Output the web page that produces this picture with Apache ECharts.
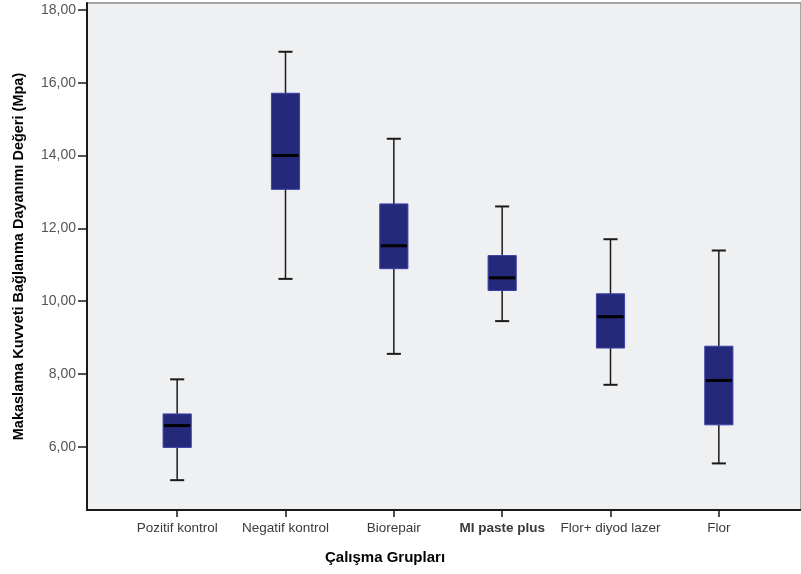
<!DOCTYPE html>
<html>
<head>
<meta charset="utf-8">
<script src="https://cdn.jsdelivr.net/npm/echarts@6/dist/echarts.min.js"></script>
<style>
  html, body { margin: 0; padding: 0; background: #fff; }
  #chart { width: 801px; height: 574px; }
</style>
</head>
<body>
<div id="chart"></div>
<script>
// groups and box statistics
const categories = ['Pozitif kontrol', 'Negatif kontrol', 'Biorepair', 'MI paste plus', 'Flor+ diyod lazer', 'Flor']
const whiskerLow = [5.08, 10.61, 8.55, 9.45, 7.70, 5.54]
const q1 = [5.98, 13.07, 10.89, 10.29, 8.71, 6.60]
const median = [6.58, 14.00, 11.52, 10.64, 9.57, 7.82]
const q3 = [6.90, 15.71, 12.67, 11.25, 10.20, 8.76]
const whiskerHigh = [7.85, 16.85, 14.46, 12.60, 11.70, 11.39]
const yTicks = [6, 8, 10, 12, 14, 16, 18]

const yMin = 4.26
const yMax = 18.19
const font = '"Liberation Sans", Arial, sans-serif'

const boxData = categories.map((c, i) => [i, whiskerLow[i], q1[i], median[i], q3[i], whiskerHigh[i]])

// box + whiskers drawn SPSS style (caps half the box width)
const renderBox = (params, api) => {
  const x = api.value(0)
  const pLow = api.coord([x, api.value(1)])
  const pQ1 = api.coord([x, api.value(2)])
  const pMed = api.coord([x, api.value(3)])
  const pQ3 = api.coord([x, api.value(4)])
  const pHigh = api.coord([x, api.value(5)])
  const band = api.size([1, 0])[0]
  const bw = band * 0.26
  const cw = bw / 2
  const cx = pMed[0]
  const lineStyle = { stroke: '#1a1a1a', lineWidth: 1.5 }
  return {
    type: 'group',
    children: [
      { type: 'line', shape: { x1: cx, y1: pHigh[1], x2: cx, y2: pQ3[1] }, style: lineStyle },
      { type: 'line', shape: { x1: cx, y1: pQ1[1], x2: cx, y2: pLow[1] }, style: lineStyle },
      { type: 'line', shape: { x1: cx - cw / 2, y1: pHigh[1], x2: cx + cw / 2, y2: pHigh[1] }, style: { stroke: '#1a1a1a', lineWidth: 2 } },
      { type: 'line', shape: { x1: cx - cw / 2, y1: pLow[1], x2: cx + cw / 2, y2: pLow[1] }, style: { stroke: '#1a1a1a', lineWidth: 2 } },
      {
        type: 'rect',
        shape: { x: cx - bw / 2, y: pQ3[1], width: bw, height: pQ1[1] - pQ3[1] },
        style: { fill: '#25297a', stroke: '#3b40a6', lineWidth: 1 }
      },
      { type: 'line', shape: { x1: cx - bw / 2 + 1, y1: pMed[1], x2: cx + bw / 2 - 1, y2: pMed[1] }, style: { stroke: '#000', lineWidth: 3 } }
    ]
  }
}

const chart = echarts.init(document.getElementById('chart'))

const option = {
  animation: false,
  backgroundColor: '#fff',
  grid: [
    // frame
    {
      left: 87, right: -3, top: 3, bottom: 64,
      show: true,
      backgroundColor: '#eff0f2',
      borderColor: '#8a8a8a',
      borderWidth: 1.5
    },
    // boxes
    { left: 123, right: 28, top: 3, bottom: 64 }
  ],
  xAxis: [
    {
      gridIndex: 0,
      type: 'value',
      min: 0, max: 1,
      axisLine: { show: true, onZero: false, lineStyle: { color: '#1a1a1a', width: 2 } },
      axisTick: { show: false },
      axisLabel: { show: false },
      splitLine: { show: false }
    },
    {
      gridIndex: 1,
      type: 'category',
      data: categories.map(c => c === 'MI paste plus' ? { value: c, textStyle: { fontWeight: 'bold' } } : c),
      axisLine: { show: false },
      axisTick: { show: true, alignWithLabel: true, length: 7, lineStyle: { color: '#1a1a1a', width: 1.5 } },
      axisLabel: { color: '#3a3a3a', fontSize: 13.5, fontFamily: font, margin: 11, interval: 0 },
      splitLine: { show: false }
    }
  ],
  yAxis: [
    {
      gridIndex: 0,
      type: 'value',
      min: yMin, max: yMax,
      name: 'Makaslama Kuvveti Bağlanma Dayanımı Değeri (Mpa)',
      nameLocation: 'middle',
      nameGap: 61,
      nameTextStyle: { color: '#000', fontSize: 14.5, fontWeight: 'bold', fontFamily: font },
      axisLine: { show: true, lineStyle: { color: '#1a1a1a', width: 2 } },
      axisTick: { show: true, length: 9, customValues: yTicks, lineStyle: { color: '#1a1a1a', width: 1.5 } },
      axisLabel: {
        customValues: yTicks,
        color: '#555',
        fontSize: 14,
        fontFamily: font,
        margin: 11,
        formatter: v => v.toFixed(2).replace('.', ',')
      },
      splitLine: { show: false }
    },
    { gridIndex: 1, type: 'value', min: yMin, max: yMax, show: false }
  ],
  graphic: [
    {
      type: 'text',
      left: 325, top: 550,
      style: { text: 'Çalışma Grupları', fill: '#000', font: 'bold 15px ' + font }
    }
  ],
  series: [
    {
      type: 'custom',
      xAxisIndex: 1,
      yAxisIndex: 1,
      renderItem: renderBox,
      encode: { x: 0, y: [1, 2, 3, 4, 5] },
      data: boxData
    }
  ]
}

chart.setOption(option)
</script>
</body>
</html>
